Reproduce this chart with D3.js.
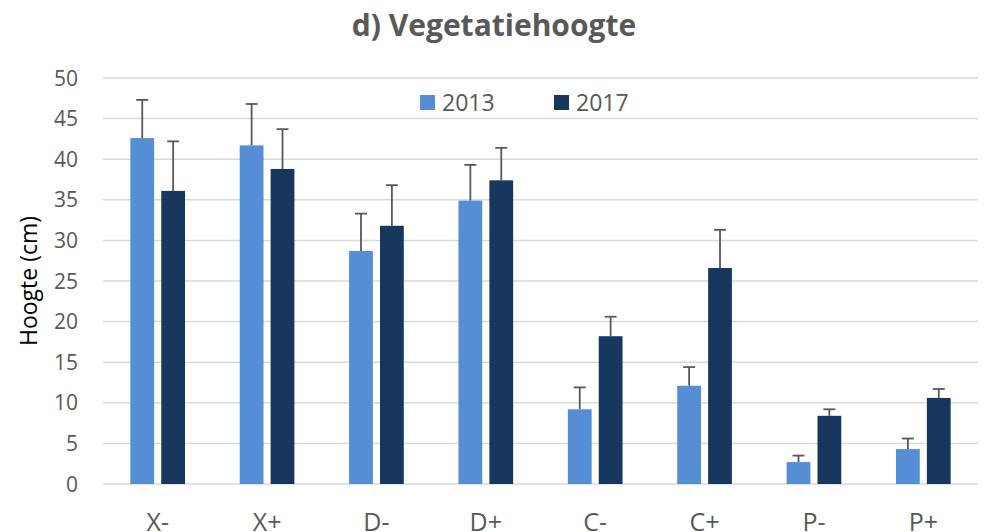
<!DOCTYPE html>
<html>
<head>
<meta charset="utf-8">
<script src="https://cdn.jsdelivr.net/npm/d3@7"></script>
<style>
  body { margin: 0; background: #fff; }
  text { font-family: "Open Sans", "Liberation Sans", sans-serif; }
</style>
</head>
<body>
<div id="chart"></div>
<script>
var categories = ['X-', 'X+', 'D-', 'D+', 'C-', 'C+', 'P-', 'P+'];
var series = ['2013', '2017'];
var values2013 = [42.6, 41.7, 28.7, 34.9, 9.2, 12.1, 2.7, 4.3];
var values2017 = [36.1, 38.8, 31.8, 37.4, 18.2, 26.6, 8.4, 10.6];
var errTop2013 = [47.3, 46.8, 33.3, 39.3, 11.9, 14.4, 3.5, 5.6];
var errTop2017 = [42.2, 43.7, 36.8, 41.4, 20.6, 31.3, 9.2, 11.7];
var yTicks = [0, 5, 10, 15, 20, 25, 30, 35, 40, 45, 50];
var colours = ['#558ED5', '#17375E'];

var width = 986, height = 532;
var margin = {left: 103, right: 8, top: 78, bottom: 48};

var svg = d3.select('#chart').append('svg')
  .attr('width', width)
  .attr('height', height);

var x = d3.scaleBand()
  .domain(categories)
  .range([margin.left, width - margin.right])
  .paddingInner(0.5)
  .paddingOuter(0.25);

var xs = d3.scaleBand()
  .domain(series)
  .range([0, x.bandwidth()])
  .paddingInner(0.23);

var y = d3.scaleLinear()
  .domain([0, 50])
  .range([height - margin.bottom, margin.top]);

// gridlines
svg.append('g')
  .selectAll('line').data(yTicks)
  .enter().append('line')
  .attr('x1', margin.left)
  .attr('x2', width - margin.right)
  .attr('y1', function(d){ return y(d); })
  .attr('y2', function(d){ return y(d); })
  .attr('stroke', '#d9d9d9')
  .attr('stroke-width', 1.5);

// y tick labels
svg.append('g')
  .selectAll('text').data(yTicks)
  .enter().append('text')
  .attr('x', 78)
  .attr('y', function(d){ return y(d); })
  .attr('dy', '0.36em')
  .attr('text-anchor', 'end')
  .attr('font-size', 21)
  .attr('fill', '#595959')
  .text(function(d){ return d; });

// x labels (cut off at the bottom edge, as in the original)
svg.append('g')
  .selectAll('text').data(categories)
  .enter().append('text')
  .attr('x', function(d){ return x(d) + x.bandwidth() / 2; })
  .attr('y', 531)
  .attr('text-anchor', 'middle')
  .attr('font-size', 25)
  .attr('fill', '#595959')
  .text(function(d){ return d; });

var rows = categories.map(function(c, i){
  return [
    {cat: c, s: series[0], v: values2013[i], e: errTop2013[i], col: colours[0]},
    {cat: c, s: series[1], v: values2017[i], e: errTop2017[i], col: colours[1]}
  ];
});
var flat = [].concat.apply([], rows);

function barX(d){ return x(d.cat) + xs(d.s); }

// error bars
var err = svg.append('g').selectAll('g').data(flat).enter().append('g');
err.append('line')
  .attr('x1', function(d){ return barX(d) + xs.bandwidth() / 2; })
  .attr('x2', function(d){ return barX(d) + xs.bandwidth() / 2; })
  .attr('y1', function(d){ return y(d.v); })
  .attr('y2', function(d){ return y(d.e); })
  .attr('stroke', '#595959')
  .attr('stroke-width', 1.8);
err.append('line')
  .attr('x1', function(d){ return barX(d) + xs.bandwidth() / 2 - 6; })
  .attr('x2', function(d){ return barX(d) + xs.bandwidth() / 2 + 6; })
  .attr('y1', function(d){ return y(d.e); })
  .attr('y2', function(d){ return y(d.e); })
  .attr('stroke', '#595959')
  .attr('stroke-width', 1.8);

svg.append('g')
  .selectAll('rect').data(flat)
  .enter().append('rect')
  .attr('x', barX)
  .attr('y', function(d){ return y(d.v); })
  .attr('width', xs.bandwidth())
  .attr('height', function(d){ return y(0) - y(d.v); })
  .attr('fill', function(d){ return d.col; });

// title
svg.append('text')
  .attr('x', 494)
  .attr('y', 36)
  .attr('text-anchor', 'middle')
  .attr('font-size', 30)
  .attr('font-weight', 'bold')
  .attr('fill', '#595959')
  .text('d) Vegetatiehoogte');

// y label
svg.append('text')
  .attr('transform', 'translate(37,' + y(25) + ') rotate(-90)')
  .attr('text-anchor', 'middle')
  .attr('font-size', 23)
  .attr('fill', '#000')
  .text('Hoogte (cm)');

// legend
var legend = svg.append('g').selectAll('g').data(series)
  .enter().append('g')
  .attr('transform', function(d, i){ return 'translate(' + (420 + i * 134) + ',95)'; });
legend.append('rect')
  .attr('width', 15).attr('height', 15)
  .attr('fill', function(d, i){ return colours[i]; });
legend.append('text')
  .attr('x', 22)
  .attr('y', 8)
  .attr('dy', '0.36em')
  .attr('font-size', 23)
  .attr('fill', '#595959')
  .text(function(d){ return d; });
</script>
</body>
</html>
